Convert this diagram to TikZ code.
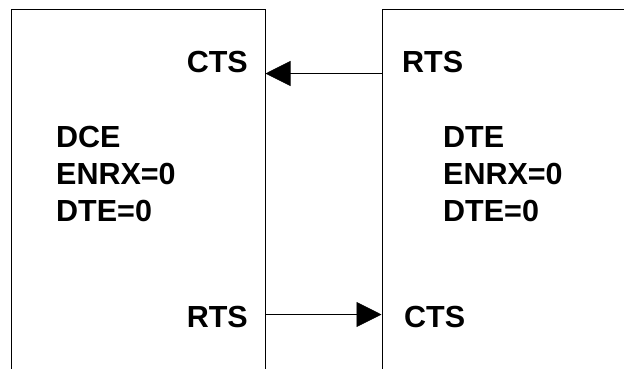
\documentclass[tikz,border=0pt]{standalone}
\usepackage{fontspec}
\setmainfont{Liberation Sans}
\usetikzlibrary{arrows.meta}
\begin{document}
\begin{tikzpicture}[x=1pt,y=-1pt,
  lbl/.style={inner sep=0pt,font=\fontsize{30.5}{36}\selectfont\bfseries},
  unit/.style={draw=black,line width=1pt,minimum width=#1,minimum height=380pt,inner sep=0pt},
  sig/.style={line width=0.7pt,-{Triangle[length=25pt,width=25pt]}}]
\useasboundingbox (0,0) rectangle (624,368);
\clip (0,0) rectangle (624,368);
\node[unit=254pt] (dce) at (138,199) {};
\node[unit=258pt] (dte) at (511,199) {};
\node[lbl,anchor=base east] (ctsL) at (248,72) {CTS};
\node[lbl,anchor=base east] (rtsL) at (248,327) {RTS};
\node[lbl,anchor=base west] (rtsR) at (402,72) {RTS};
\node[lbl,anchor=base west] (ctsR) at (404,327) {CTS};
\node[lbl,anchor=base west] (l1) at (56,147) {DCE};
\node[lbl,anchor=base west] (l2) at (56,184) {ENRX=0};
\node[lbl,anchor=base west] (l3) at (56,221) {DTE=0};
\node[lbl,anchor=base west] (r1) at (443,147) {DTE};
\node[lbl,anchor=base west] (r2) at (443,184) {ENRX=0};
\node[lbl,anchor=base west] (r3) at (443,221) {DTE=0};
\coordinate (a1) at (dte.west |- 0,73.5);
\coordinate (a2) at (dce.east |- 0,73.5);
\coordinate (b1) at (dce.east |- 0,314.5);
\coordinate (b2) at (dte.west |- 0,314.5);
\draw[sig] (a1) -- (a2);
\draw[sig] (b1) -- (b2);
\end{tikzpicture}
\end{document}
